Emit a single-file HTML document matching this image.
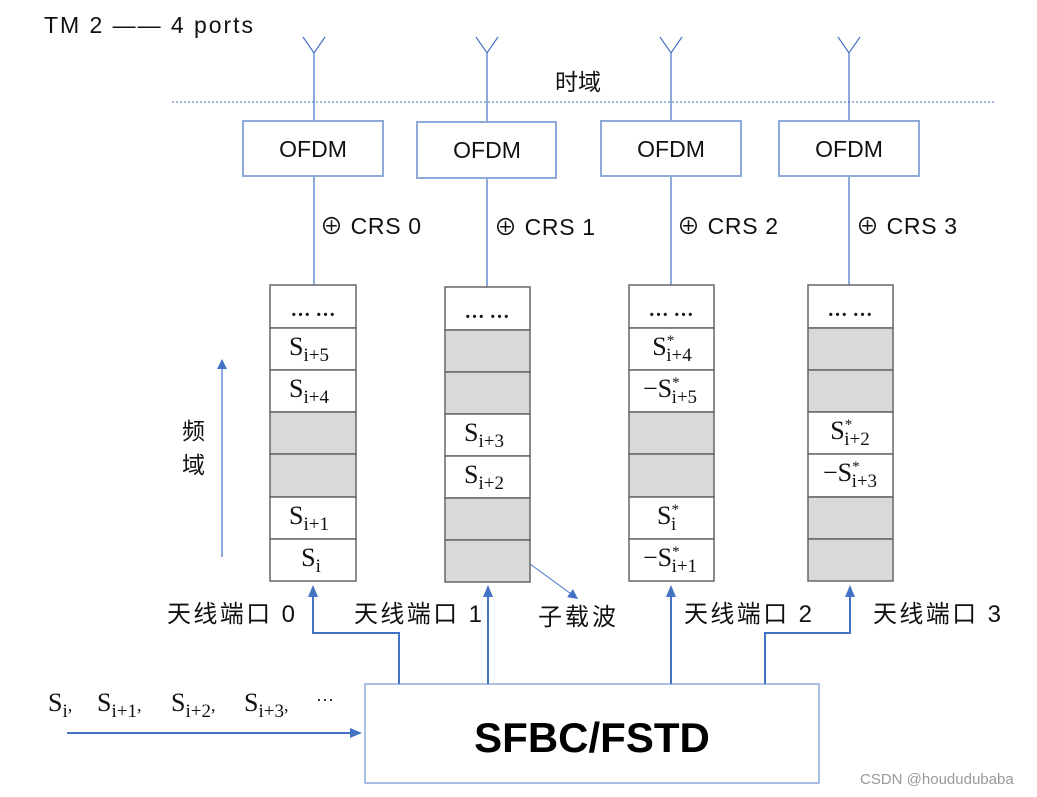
<!DOCTYPE html>
<html><head><meta charset="utf-8"><style>
html,body{margin:0;padding:0;background:#fff;}
svg{display:block;}
.cj{font-family:"Liberation Sans","Noto Sans CJK SC",sans-serif;}
.sf{font-family:"Liberation Serif","DejaVu Serif",serif;}
</style></head><body>
<svg width="1037" height="797" viewBox="0 0 1037 797" xmlns="http://www.w3.org/2000/svg">
<defs>
<marker id="ah" markerWidth="10" markerHeight="10" refX="5" refY="5" orient="auto" markerUnits="userSpaceOnUse">
<path d="M0,0 L10,5 L0,10 z" fill="#4472c4"/></marker>
<marker id="ah2" markerWidth="12" markerHeight="12" refX="6" refY="6" orient="auto" markerUnits="userSpaceOnUse">
<path d="M0,1 L12,6 L0,11 z" fill="#4472c4"/></marker>
</defs>

<text x="44" y="33" class="cj" font-size="23" fill="#111" textLength="209" lengthAdjust="spacing">TM 2 —— 4 ports</text>

<line x1="172" y1="102" x2="996" y2="102" stroke="#4472c4" stroke-width="1" stroke-dasharray="2,2"/>
<text x="555" y="90" class="cj" font-size="23" fill="#111">时域</text>

<g stroke="#4472c4" stroke-width="1.2" fill="none">
<path d="M303,37 L314,53 L325,37 M314,53 L314,121"/>
<path d="M476,37 L487,53 L498,37 M487,53 L487,122"/>
<path d="M660,37 L671,53 L682,37 M671,53 L671,121"/>
<path d="M838,37 L849,53 L860,37 M849,53 L849,121"/>
<line x1="314" y1="176" x2="314" y2="285"/>
<line x1="487" y1="178" x2="487" y2="287"/>
<line x1="671" y1="176" x2="671" y2="285"/>
<line x1="849" y1="176" x2="849" y2="285"/>
</g>
<g stroke="#8eaadb" stroke-width="2" fill="#fff">
<rect x="243" y="121" width="140" height="55"/>
<rect x="417" y="122" width="139" height="56"/>
<rect x="601" y="121" width="140" height="55"/>
<rect x="779" y="121" width="140" height="55"/>
</g>
<g class="cj" font-size="23" fill="#111" text-anchor="middle">
<text x="313" y="157">OFDM</text>
<text x="487" y="158">OFDM</text>
<text x="671" y="157">OFDM</text>
<text x="849" y="157">OFDM</text>
</g>
<g class="cj" font-size="23" fill="#111">
<text x="320" y="234" textLength="101" lengthAdjust="spacing">⊕ CRS 0</text>
<text x="494" y="235" textLength="101" lengthAdjust="spacing">⊕ CRS 1</text>
<text x="677" y="234" textLength="101" lengthAdjust="spacing">⊕ CRS 2</text>
<text x="856" y="234" textLength="101" lengthAdjust="spacing">⊕ CRS 3</text>
</g>

<g stroke="#666" stroke-width="1.5">
<rect x="270" y="285" width="86" height="43" fill="#fff"/>
<rect x="270" y="328" width="86" height="42" fill="#fff"/>
<rect x="270" y="370" width="86" height="42" fill="#fff"/>
<rect x="270" y="412" width="86" height="42" fill="#d9d9d9"/>
<rect x="270" y="454" width="86" height="43" fill="#d9d9d9"/>
<rect x="270" y="497" width="86" height="42" fill="#fff"/>
<rect x="270" y="539" width="86" height="42" fill="#fff"/>
<rect x="445" y="287" width="85" height="43" fill="#fff"/>
<rect x="445" y="330" width="85" height="42" fill="#d9d9d9"/>
<rect x="445" y="372" width="85" height="42" fill="#d9d9d9"/>
<rect x="445" y="414" width="85" height="42" fill="#fff"/>
<rect x="445" y="456" width="85" height="42" fill="#fff"/>
<rect x="445" y="498" width="85" height="42" fill="#d9d9d9"/>
<rect x="445" y="540" width="85" height="42" fill="#d9d9d9"/>
<rect x="629" y="285" width="85" height="43" fill="#fff"/>
<rect x="629" y="328" width="85" height="42" fill="#fff"/>
<rect x="629" y="370" width="85" height="42" fill="#fff"/>
<rect x="629" y="412" width="85" height="42" fill="#d9d9d9"/>
<rect x="629" y="454" width="85" height="43" fill="#d9d9d9"/>
<rect x="629" y="497" width="85" height="42" fill="#fff"/>
<rect x="629" y="539" width="85" height="42" fill="#fff"/>
<rect x="808" y="285" width="85" height="43" fill="#fff"/>
<rect x="808" y="328" width="85" height="42" fill="#d9d9d9"/>
<rect x="808" y="370" width="85" height="42" fill="#d9d9d9"/>
<rect x="808" y="412" width="85" height="42" fill="#fff"/>
<rect x="808" y="454" width="85" height="43" fill="#fff"/>
<rect x="808" y="497" width="85" height="42" fill="#d9d9d9"/>
<rect x="808" y="539" width="85" height="42" fill="#d9d9d9"/>
</g>

<g class="sf" fill="#111" text-anchor="middle" font-size="26">
<text x="313" y="316" font-size="20" font-weight="bold">… …</text>
<text x="487" y="318" font-size="20" font-weight="bold">… …</text>
<text x="671" y="316" font-size="20" font-weight="bold">… …</text>
<text x="850" y="316" font-size="20" font-weight="bold">… …</text>
<text x="309" y="355">S<tspan font-size="19" dy="6">i+5</tspan></text>
<text x="309" y="397">S<tspan font-size="19" dy="6">i+4</tspan></text>
<text x="309" y="524">S<tspan font-size="19" dy="6">i+1</tspan></text>
<text x="311" y="566">S<tspan font-size="19" dy="6">i</tspan></text>
<text x="484" y="441">S<tspan font-size="19" dy="6">i+3</tspan></text>
<text x="484" y="483">S<tspan font-size="19" dy="6">i+2</tspan></text>
<text x="672" y="355">S<tspan font-size="15" dy="-10">*</tspan><tspan font-size="19" dx="-8" dy="16">i+4</tspan></text>
<text x="670" y="397">−S<tspan font-size="15" dy="-10">*</tspan><tspan font-size="19" dx="-8" dy="16">i+5</tspan></text>
<text x="668" y="524">S<tspan font-size="15" dy="-10">*</tspan><tspan font-size="19" dx="-8" dy="16">i</tspan></text>
<text x="670" y="566">−S<tspan font-size="15" dy="-10">*</tspan><tspan font-size="19" dx="-8" dy="16">i+1</tspan></text>
<text x="850" y="439">S<tspan font-size="15" dy="-10">*</tspan><tspan font-size="19" dx="-8" dy="16">i+2</tspan></text>
<text x="850" y="481">−S<tspan font-size="15" dy="-10">*</tspan><tspan font-size="19" dx="-8" dy="16">i+3</tspan></text>
</g>

<line x1="222" y1="557" x2="222" y2="364" stroke="#4472c4" stroke-width="1.2" marker-end="url(#ah)"/>
<text x="182" y="439" class="cj" font-size="23" fill="#111">频</text>
<text x="182" y="473" class="cj" font-size="23" fill="#111">域</text>

<line x1="530" y1="564" x2="574" y2="596" stroke="#4472c4" stroke-width="1" marker-end="url(#ah)"/>
<text x="538" y="625" class="cj" font-size="24" fill="#111" textLength="78" lengthAdjust="spacing">子载波</text>

<g class="cj" font-size="24" fill="#111">
<text x="167" y="622" textLength="128" lengthAdjust="spacing">天线端口 0</text>
<text x="354" y="622" textLength="128" lengthAdjust="spacing">天线端口 1</text>
<text x="684" y="622" textLength="128" lengthAdjust="spacing">天线端口 2</text>
<text x="873" y="622" textLength="128" lengthAdjust="spacing">天线端口 3</text>
</g>

<rect x="365" y="684" width="454" height="99" fill="#fff" stroke="#8eaadb" stroke-width="1.5"/>
<text x="592" y="752" class="cj" font-size="42" font-weight="bold" text-anchor="middle" fill="#000">SFBC/FSTD</text>

<g stroke="#4472c4" stroke-width="2" fill="none">
<path d="M399,684 L399,633 L313,633 L313,591" marker-end="url(#ah2)"/>
<path d="M488,684 L488,591" marker-end="url(#ah2)"/>
<path d="M671,684 L671,591" marker-end="url(#ah2)"/>
<path d="M765,684 L765,633 L850,633 L850,591" marker-end="url(#ah2)"/>
<path d="M67,733 L356,733" marker-end="url(#ah2)"/>
</g>

<g class="sf" font-size="26" fill="#111">
<text x="48" y="711">S<tspan font-size="19" dy="6">i</tspan><tspan font-size="18" dy="-6">,</tspan></text>
<text x="97" y="711">S<tspan font-size="19" dy="6">i+1</tspan><tspan font-size="18" dy="-6">,</tspan></text>
<text x="171" y="711">S<tspan font-size="19" dy="6">i+2</tspan><tspan font-size="18" dy="-6">,</tspan></text>
<text x="244" y="711">S<tspan font-size="19" dy="6">i+3</tspan><tspan font-size="18" dy="-6">,</tspan></text>
<text x="316" y="706" font-size="18">···</text>
</g>

<text x="860" y="784" class="cj" font-size="15" fill="#999">CSDN @hoududubaba</text>
</svg>
</body></html>
